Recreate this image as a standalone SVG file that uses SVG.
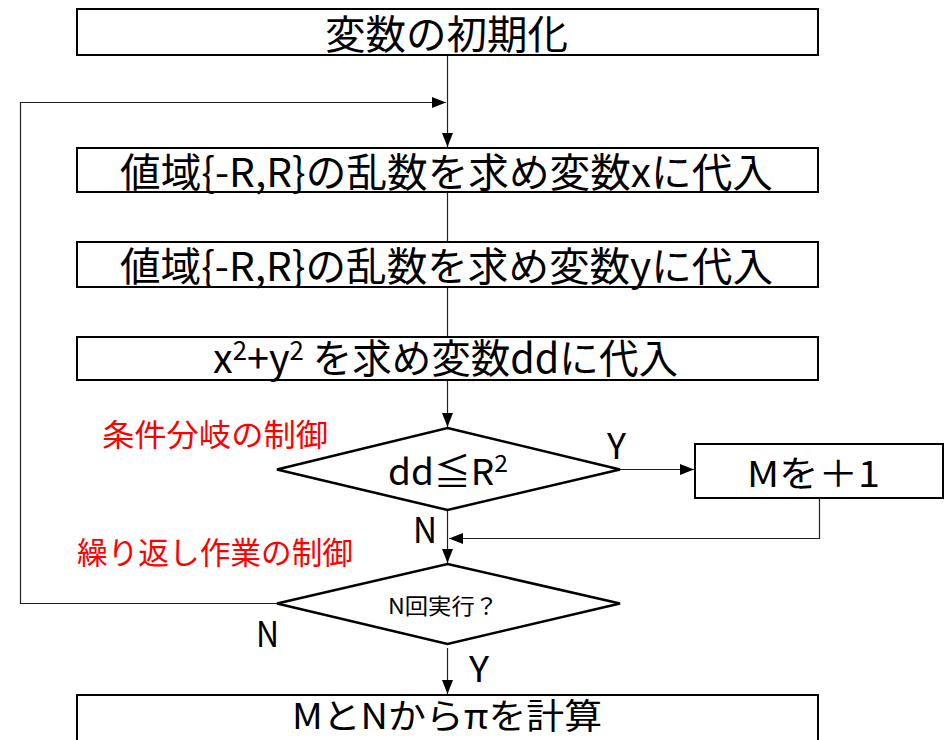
<svg xmlns="http://www.w3.org/2000/svg" width="949" height="740" viewBox="0 0 949 740">
<style>
  text { font-family: "Noto Sans CJK JP", "Noto Sans", sans-serif; fill: #000; }
  .box { fill: #fff; stroke: #000; stroke-width: 2; }
  .dia { fill: #fff; stroke: #000; stroke-width: 2.5; stroke-linejoin: miter; }
  .big { font-size: 40px; }
  .lbl { font-size: 36px; }
  .red { font-size: 31px; fill: #ff0000; }
  .conn { fill: none; stroke: #222; stroke-width: 1.2; }
</style>
<defs>
  <marker id="arr" markerUnits="userSpaceOnUse" markerWidth="14" markerHeight="14" viewBox="0 0 14 14" refX="14" refY="7" orient="auto">
    <path d="M0,1.5 L14,7 L0,12.5 Z" fill="#000"/>
  </marker>
</defs>
<rect width="949" height="740" fill="#fff"/>

<g id="connectors">
  <path class="conn" d="M447.5,55 V147" marker-end="url(#arr)"/>
  <path class="conn" d="M447.5,192 V242"/>
  <path class="conn" d="M447.5,287 V337"/>
  <path class="conn" d="M447.5,380 V427" marker-end="url(#arr)"/>
  <path class="conn" d="M620,469.5 H694" marker-end="url(#arr)"/>
  <path class="conn" d="M447.5,510 V563" marker-end="url(#arr)"/>
  <path class="conn" d="M819.5,498 V538.5 H449" marker-end="url(#arr)"/>
  <path class="conn" d="M277,603.5 H20.5 V102.5 H446" marker-end="url(#arr)"/>
  <path class="conn" d="M447.5,648 V694" marker-end="url(#arr)"/>
</g>

<g id="init">
  <rect class="box" x="77" y="9" width="741" height="46"/>
  <text class="big" x="325" y="49" textLength="243" lengthAdjust="spacingAndGlyphs">変数の初期化</text>
</g>

<g id="randx">
  <rect class="box" x="77" y="148" width="741" height="44"/>
  <text class="big" x="120" y="187" textLength="653" lengthAdjust="spacingAndGlyphs">値域{-R,R}の乱数を求め変数xに代入</text>
</g>

<g id="randy">
  <rect class="box" x="77" y="242" width="741" height="45"/>
  <text class="big" x="120" y="281" textLength="653" lengthAdjust="spacingAndGlyphs">値域{-R,R}の乱数を求め変数yに代入</text>
</g>

<g id="dd">
  <rect class="box" x="77" y="337" width="741" height="43"/>
  <text class="big" x="213" y="373" textLength="465" lengthAdjust="spacingAndGlyphs">x<tspan font-size="26" baseline-shift="13">2</tspan>+y<tspan font-size="26" baseline-shift="13">2</tspan> を求め変数ddに代入</text>
</g>

<g id="cond">
  <polygon class="dia" points="447.5,428 620,469.5 447.5,510 277,469.5"/>
  <text class="lbl" x="388" y="485" textLength="120" lengthAdjust="spacingAndGlyphs">dd≦R<tspan font-size="24" baseline-shift="13">2</tspan></text>
</g>

<g id="incm">
  <rect class="box" x="695" y="444" width="248" height="54"/>
  <text class="lbl" x="747" y="487" textLength="133" lengthAdjust="spacingAndGlyphs">Mを＋1</text>
</g>

<g id="loop">
  <polygon class="dia" points="447.5,564 620,603.5 447.5,644 277,603.5"/>
  <text x="388" y="614" font-size="22" textLength="110" lengthAdjust="spacingAndGlyphs">N回実行？</text>
</g>

<g id="calc">
  <rect class="box" x="77" y="695" width="741" height="47"/>
  <text x="292" y="729" font-size="35" textLength="310" lengthAdjust="spacingAndGlyphs">MとNからπを計算</text>
</g>

<g id="labels">
  <text class="lbl" x="607" y="459" textLength="19" lengthAdjust="spacingAndGlyphs">Y</text>
  <text class="lbl" x="413" y="543" textLength="24" lengthAdjust="spacingAndGlyphs">N</text>
  <text class="lbl" x="256" y="647" textLength="23" lengthAdjust="spacingAndGlyphs">N</text>
  <text class="lbl" x="469" y="682" textLength="20" lengthAdjust="spacingAndGlyphs">Y</text>
  <text class="red" x="102" y="446" textLength="226" lengthAdjust="spacingAndGlyphs">条件分岐の制御</text>
  <text class="red" x="77" y="564" textLength="276" lengthAdjust="spacingAndGlyphs">繰り返し作業の制御</text>
</g>
</svg>
